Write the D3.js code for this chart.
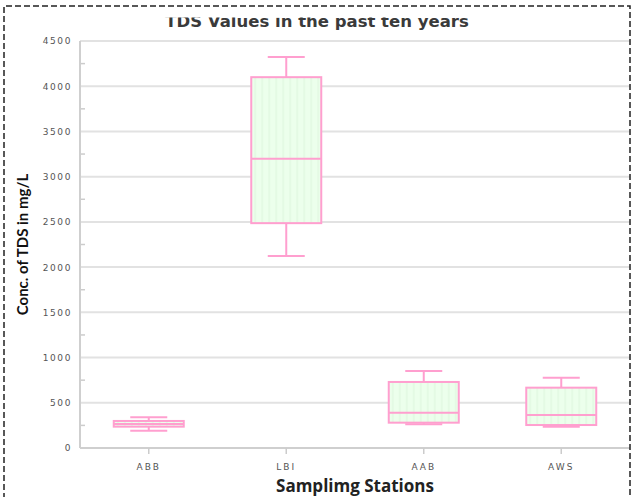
<!DOCTYPE html>
<html>
<head>
<meta charset="utf-8">
<script src="https://cdn.jsdelivr.net/npm/d3@7"></script>
<style>
  body { margin: 0; background: #fff; }
  svg { display: block; }
</style>
</head>
<body>
<div id="chart"></div>
<script>
// Box plot values (mg/L)
const stations = ["ABB", "LBI", "AAB", "AWS"];
const whiskerLow = [191, 2124, 262, 236];
const q1 = [236, 2486, 280, 254];
const median = [265, 3197, 390, 365];
const q3 = [299, 4100, 730, 667];
const whiskerHigh = [340, 4322, 852, 778];
const yTicks = [0, 500, 1000, 1500, 2000, 2500, 3000, 3500, 4000, 4500];
const yMinorTicks = [250, 750, 1250, 1750, 2250, 2750, 3250, 3750, 4250];

const width = 633, height = 497;
const plotLeft = 80, plotRight = 630, plotTop = 41, plotBottom = 448;
const pink = "#ff9fcf";

const svg = d3.select("#chart").append("svg")
  .attr("width", width)
  .attr("height", height);

// faint stripes inside the boxes
const defs = svg.append("defs");
const pat = defs.append("pattern")
  .attr("id", "stripes")
  .attr("patternUnits", "userSpaceOnUse")
  .attr("width", 7)
  .attr("height", 10);
pat.append("rect").attr("width", 7).attr("height", 10).attr("fill", "#ecffec");
pat.append("rect").attr("x", 3).attr("width", 2).attr("height", 10).attr("fill", "#e4fae4");

defs.append("clipPath").attr("id", "titleClip")
  .append("rect").attr("x", 0).attr("y", 17.5).attr("width", width).attr("height", 30);

const x = d3.scaleBand().domain(stations).range([plotLeft, plotRight]);
const y = d3.scaleLinear().domain([0, 4500]).range([plotBottom, plotTop]);

// grid lines
svg.append("g")
  .selectAll("line")
  .data(yTicks.slice(1))
  .join("line")
  .attr("x1", plotLeft)
  .attr("x2", plotRight)
  .attr("y1", d => y(d))
  .attr("y2", d => y(d))
  .attr("stroke", "#e2e2e2")
  .attr("stroke-width", 2);

// y axis labels
const yAxis = svg.append("g")
  .attr("transform", `translate(${plotLeft},0)`)
  .call(d3.axisLeft(y).tickValues(yTicks).tickFormat(d3.format("d")).tickSize(0).tickPadding(8));
yAxis.select(".domain").remove();
yAxis.selectAll("text")
  .attr("font-family", "DejaVu Sans, sans-serif")
  .attr("font-size", "9px")
  .attr("letter-spacing", "1.6px")
  .attr("fill", "#555");

// minor ticks inside the plot
svg.append("g")
  .selectAll("line")
  .data(yMinorTicks)
  .join("line")
  .attr("x1", plotLeft)
  .attr("x2", plotLeft + 5)
  .attr("y1", d => y(d))
  .attr("y2", d => y(d))
  .attr("stroke", "#ccc")
  .attr("stroke-width", 1.5);

// axis lines
svg.append("line")
  .attr("x1", plotLeft).attr("x2", plotLeft)
  .attr("y1", plotTop).attr("y2", plotBottom)
  .attr("stroke", "#cfcfcf").attr("stroke-width", 2);
svg.append("line")
  .attr("x1", plotLeft).attr("x2", plotRight)
  .attr("y1", plotBottom).attr("y2", plotBottom)
  .attr("stroke", "#cfcfcf").attr("stroke-width", 2);

// x axis
const xAxis = svg.append("g")
  .attr("transform", `translate(0,${plotBottom})`)
  .call(d3.axisBottom(x).tickSize(6).tickPadding(10));
xAxis.select(".domain").remove();
xAxis.selectAll(".tick line").attr("stroke", "#ccc").attr("stroke-width", 1.5);
xAxis.selectAll("text")
  .attr("font-family", "DejaVu Sans, sans-serif")
  .attr("font-size", "9px")
  .attr("letter-spacing", "2px")
  .attr("fill", "#555");

// boxes
const boxW = 70, capW = 37;
const boxes = svg.append("g")
  .selectAll("g")
  .data(stations)
  .join("g")
  .attr("transform", d => `translate(${x(d) + x.bandwidth() / 2},0)`);

boxes.append("line")
  .attr("x1", 0).attr("x2", 0)
  .attr("y1", (d, i) => y(whiskerHigh[i]))
  .attr("y2", (d, i) => y(q3[i]))
  .attr("stroke", pink).attr("stroke-width", 2);
boxes.append("line")
  .attr("x1", 0).attr("x2", 0)
  .attr("y1", (d, i) => y(q1[i]))
  .attr("y2", (d, i) => y(whiskerLow[i]))
  .attr("stroke", pink).attr("stroke-width", 2);
boxes.append("line")
  .attr("x1", -capW / 2).attr("x2", capW / 2)
  .attr("y1", (d, i) => y(whiskerHigh[i]))
  .attr("y2", (d, i) => y(whiskerHigh[i]))
  .attr("stroke", pink).attr("stroke-width", 2);
boxes.append("line")
  .attr("x1", -capW / 2).attr("x2", capW / 2)
  .attr("y1", (d, i) => y(whiskerLow[i]))
  .attr("y2", (d, i) => y(whiskerLow[i]))
  .attr("stroke", pink).attr("stroke-width", 2);
boxes.append("rect")
  .attr("x", -boxW / 2)
  .attr("width", boxW)
  .attr("y", (d, i) => y(q3[i]))
  .attr("height", (d, i) => y(q1[i]) - y(q3[i]))
  .attr("fill", "url(#stripes)")
  .attr("stroke", pink).attr("stroke-width", 2);
boxes.append("line")
  .attr("x1", -boxW / 2).attr("x2", boxW / 2)
  .attr("y1", (d, i) => y(median[i]))
  .attr("y2", (d, i) => y(median[i]))
  .attr("stroke", pink).attr("stroke-width", 2);

// title (top clipped as in the original)
svg.append("text")
  .attr("clip-path", "url(#titleClip)")
  .attr("x", 317)
  .attr("y", 27)
  .attr("text-anchor", "middle")
  .attr("font-family", "DejaVu Sans, sans-serif")
  .attr("font-weight", "bold")
  .attr("font-size", "16.5px")
  .attr("fill", "#3a3a3a")
  .text("TDS Values in the past ten years");

// axis titles
svg.append("text")
  .attr("transform", `translate(28,${(plotTop + plotBottom) / 2}) rotate(-90)`)
  .attr("text-anchor", "middle")
  .attr("font-family", "Lato, sans-serif")
  .attr("font-weight", "bold")
  .attr("font-size", "15px")
  .attr("fill", "#111")
  .text("Conc. of TDS in mg/L");

svg.append("text")
  .attr("x", (plotLeft + plotRight) / 2)
  .attr("y", 492)
  .attr("text-anchor", "middle")
  .attr("font-family", "Open Sans, sans-serif")
  .attr("font-weight", "bold")
  .attr("font-size", "17px")
  .attr("fill", "#222")
  .text("Samplimg Stations");

// dashed frame
svg.append("path")
  .attr("d", `M4,${height + 2} V6 H630 V${height + 2}`)
  .attr("fill", "none")
  .attr("stroke", "#222")
  .attr("stroke-width", 1.5)
  .attr("stroke-dasharray", "6,3");
</script>
</body>
</html>
